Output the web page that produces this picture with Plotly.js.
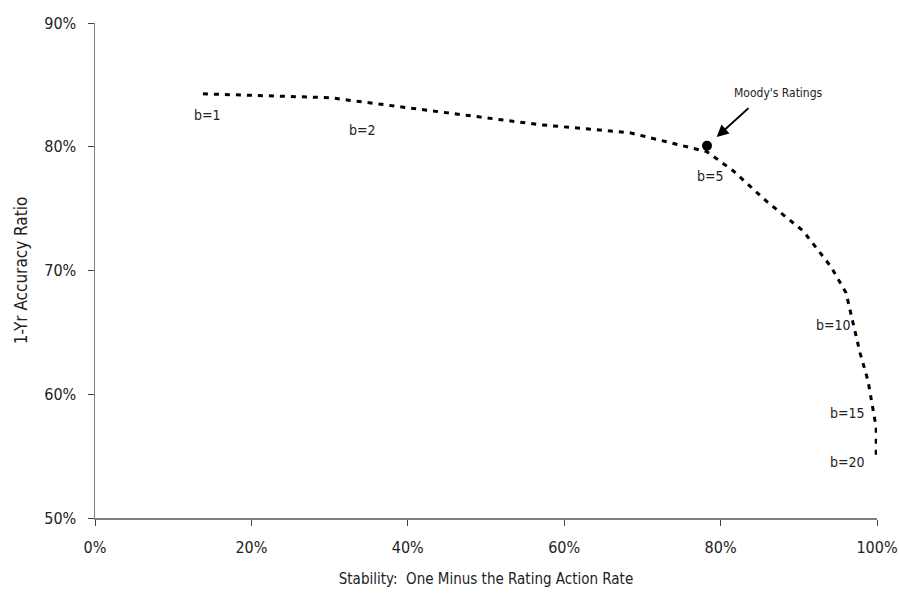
<!DOCTYPE html>
<html>
<head>
<meta charset="utf-8">
<script src="https://cdn.plot.ly/plotly-3.0.1.min.js"></script>
<style>html,body{margin:0;padding:0;background:#fff;}#chart{width:899px;height:599px;}</style>
</head>
<body>
<div id="chart"></div>
<script>
// Trade-off curve: stability (x) vs 1-yr accuracy ratio (y)
const stability = [0.138, 0.3005, 0.569, 0.684, 0.7826, 0.816, 0.8593, 0.9054, 0.9412, 0.9604, 0.9693, 0.9783, 0.9885, 0.9949, 0.999, 0.999];
const accuracy  = [0.8428, 0.8396, 0.8178, 0.8113, 0.7960, 0.7806, 0.7556, 0.7321, 0.7030, 0.6820, 0.6578, 0.6335, 0.6109, 0.5875, 0.5729, 0.5487];
// labelled points (index into the curve)
const labelText  = ['b=1', 'b=2', 'b=5', 'b=10', 'b=15', 'b=20'];
const labelIndex = [0, 1, 4, 10, 13, 15];
const labelShift = [[5, 21], [33, 32], [4, 24], [-19, 2], [-26, 3], [-29, 4]]; // px, screen (down positive)
// Moody's ratings point
const moodysX = [0.7826];
const moodysY = [0.8008];
const moodysLabel = "Moody's Ratings";

const xTickVals = [0, 0.2, 0.4, 0.6, 0.8, 1.0];
const xTickText = ['0%', '20%', '40%', '60%', '80%', '100%'];
const yTickVals = [0.5, 0.6, 0.7, 0.8, 0.9];
const yTickText = ['50%', '60%', '70%', '80%', '90%'];

const FONT = '"Liberation Sans Narrow", "Arial Narrow", "DejaVu Sans Condensed", sans-serif';

const traces = [
  {
    x: stability, y: accuracy, type: 'scatter', mode: 'lines',
    line: {color: '#000', width: 3, dash: '5px,6px'},
    hoverinfo: 'skip'
  },
  {
    x: moodysX, y: moodysY, type: 'scatter', mode: 'markers',
    marker: {color: '#000', size: 10},
    hoverinfo: 'skip'
  }
];

const annotations = labelText.map((t, i) => ({
  x: stability[labelIndex[i]], y: accuracy[labelIndex[i]],
  xref: 'x', yref: 'y', text: t, showarrow: false,
  xshift: labelShift[i][0], yshift: -labelShift[i][1],
  font: {family: FONT, size: 14, color: '#222'}
}));
annotations.push({
  x: moodysX[0], y: moodysY[0], xref: 'x', yref: 'y', text: '',
  showarrow: true, ax: 43, ay: -39, axref: 'pixel', ayref: 'pixel',
  arrowhead: 2, arrowsize: 1.2, arrowwidth: 2, arrowcolor: '#000', standoff: 13
});
annotations.push({
  x: moodysX[0], y: moodysY[0], xref: 'x', yref: 'y', text: moodysLabel,
  showarrow: false, xshift: 72, yshift: 53,
  font: {family: FONT, size: 12, color: '#222'}
});

const layout = {
  width: 899, height: 599,
  margin: {l: 95, r: 22, t: 23, b: 81},
  paper_bgcolor: '#fff', plot_bgcolor: '#fff',
  showlegend: false,
  font: {family: FONT, color: '#222'},
  xaxis: {
    range: [0, 1], tickvals: xTickVals, ticktext: xTickText,
    showgrid: false, zeroline: false, showline: true, linecolor: '#808080', linewidth: 1.5,
    ticks: 'outside', ticklen: 6, tickcolor: '#444', tickwidth: 1,
    ticklabelstandoff: 8,
    tickfont: {family: FONT, size: 16, color: '#222'},
    title: {text: 'Stability:  One Minus the Rating Action Rate', font: {family: FONT, size: 15, color: '#222'}, standoff: 18}
  },
  yaxis: {
    range: [0.5, 0.9], tickvals: yTickVals, ticktext: yTickText,
    showgrid: false, zeroline: false, showline: true, linecolor: '#808080', linewidth: 1.5,
    ticks: 'outside', ticklen: 6, tickcolor: '#444', tickwidth: 1,
    ticklabelstandoff: 8,
    tickfont: {family: FONT, size: 16, color: '#222'},
    title: {text: '1-Yr Accuracy Ratio', font: {family: FONT, size: 17, color: '#222'}, standoff: 12}
  },
  annotations: annotations
};

Plotly.newPlot('chart', traces, layout, {staticPlot: true, displayModeBar: false});
</script>
</body>
</html>
